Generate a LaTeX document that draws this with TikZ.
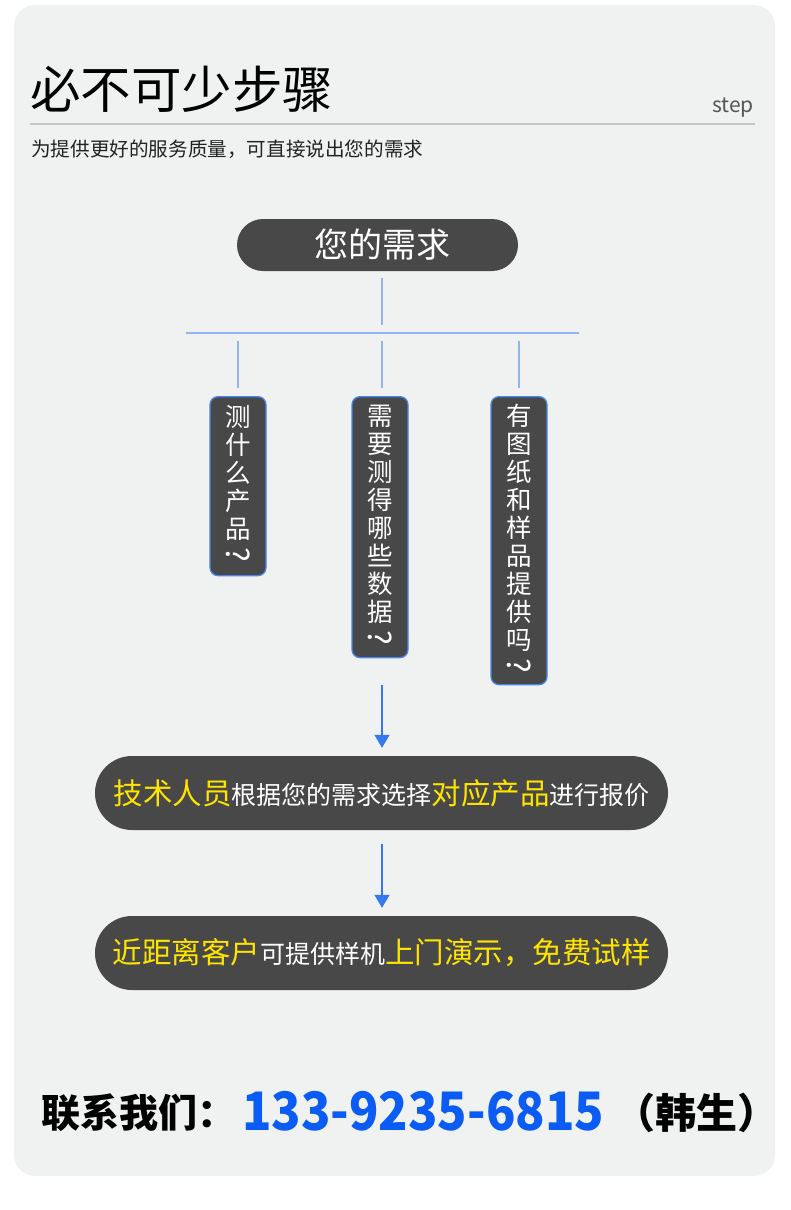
\documentclass[tikz,border=0pt]{standalone}
\usepackage{fontspec}
\usepackage{graphicx}
\setmainfont{Noto Sans CJK SC}
\usetikzlibrary{arrows.meta}
\definecolor{bg}{HTML}{F0F1F1}
\definecolor{nodegray}{HTML}{484848}
\definecolor{lineblue}{HTML}{8FB4F8}
\definecolor{arrowblue}{HTML}{3479F2}
\definecolor{boxblue}{HTML}{4A84EE}
\definecolor{yel}{HTML}{FFE400}
\definecolor{phone}{HTML}{0A5CF5}
\definecolor{rulegray}{HTML}{C4C5C5}
\definecolor{stepgray}{HTML}{555555}
\definecolor{subblack}{HTML}{222222}
\newcommand\ytext[1]{{\color{yel}\fontsize{29.5}{30}\selectfont #1}}
\newcommand\wtext[1]{{\color{white}\fontsize{25}{30}\selectfont #1}}
\newcommand\vq{\rotatebox[origin=c]{-90}{\fontsize{31}{31}\selectfont ?}}
\tikzset{
  pill/.style={fill=nodegray, rounded corners=37pt, minimum width=573pt, minimum height=74pt, inner sep=0pt, text=white},
  vbox/.style={fill=nodegray, draw=boxblue, line width=1.3pt, rounded corners=8pt, minimum width=56pt, inner sep=0pt, anchor=north, align=center, text=white, font=\fontsize{25.5}{28}\selectfont},
  conn/.style={draw=lineblue, line width=1.6pt},
  arr/.style={draw=arrowblue, line width=1.4pt, -{Triangle[length=13pt,width=15pt]}},
  plain/.style={inner sep=0pt, anchor=base west}
}
\begin{document}
\begin{tikzpicture}[x=1pt,y=-1pt]
\useasboundingbox (0,0) rectangle (790,1210);
\fill[bg, rounded corners=21pt] (14,5) rectangle (775,1176);

% header
\node[plain, font=\fontsize{50.5}{50}\selectfont, text=black] (title) at (30,108.5) {必不可少步骤};
\node[inner sep=0pt, anchor=base east, font=\fontsize{21}{21}\selectfont, text=stepgray] (step) at (754,112) {step};
\coordinate (ruleL) at (30,124);
\coordinate (ruleR) at (755,124);
\draw[rulegray, line width=2pt] (ruleL) -- (ruleR);
\node[plain, font=\fontsize{19.6}{19.6}\selectfont, text=subblack] (sub) at (31,156) {为提供更好的服务质量，可直接说出您的需求};

% top node
\node[fill=nodegray, rounded corners=26pt, minimum width=281pt, minimum height=52pt, inner sep=0pt, text=white, font=\fontsize{34}{34}\selectfont] (need) at (377.5,245) {\hspace*{9pt}您的需求};

% vertical boxes
\node[vbox, minimum height=179pt] (b1) at (238,396) {测\\什\\么\\产\\品\\\vq};
\node[vbox, minimum height=261pt] (b2) at (380,396) {需\\要\\测\\得\\哪\\些\\数\\据\\\vq};
\node[vbox, minimum height=288pt] (b3) at (519,396) {有\\图\\纸\\和\\样\\品\\提\\供\\吗\\\vq};

% tree connectors
\coordinate (busL) at (186,333);
\coordinate (busR) at (579,333);
\coordinate (busM) at (382,333);
\draw[conn] (busL) -- (busR);
\draw[conn] ([yshift=-7pt]busM |- need.south) -- ([yshift=8pt]busM);
\draw[conn] ([yshift=-8pt]busM -| b1.north) -- ([yshift=8pt]b1.north);
\draw[conn] ([yshift=-8pt]busM) -- ([yshift=8pt]busM |- b2.north);
\draw[conn] ([yshift=-8pt]busM -| b3.north) -- ([yshift=8pt]b3.north);

% pills
\node[pill] (p2) at (381.5,793) {\ytext{技术人员}\wtext{根据您的需求选择}\ytext{对应产品}\wtext{进行报价}};
\node[pill] (p3) at (381.5,953) {\ytext{近距离客户}\wtext{可提供样机}\ytext{上门演示，免费试样}};

% arrows
\draw[arr] ([yshift=-27pt]busM |- b2.south) -- ([yshift=8pt]busM |- p2.north);
\draw[arr] ([yshift=-14pt]busM |- p2.south) -- ([yshift=8pt]busM |- p3.north);

% contact
\node[plain, font=\bfseries\fontsize{39}{39}\selectfont, text=black] (c1) at (41,1127) {联系我们：};
\node[plain, font=\bfseries\fontsize{53}{53}\selectfont, text=phone] (c2) at (242,1130) {\scalebox{0.915}[1]{133-9235-6815}};
\node[plain, font=\bfseries\fontsize{41}{41}\selectfont, text=black] (c3) at (614,1128) {（韩生）};
\end{tikzpicture}
\end{document}
